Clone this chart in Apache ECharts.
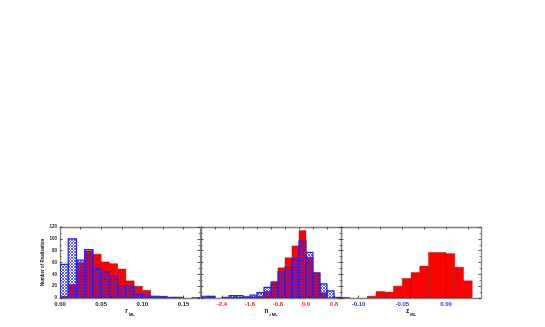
<!DOCTYPE html>
<html>
<head>
<meta charset="utf-8">
<script src="https://cdn.jsdelivr.net/npm/echarts@6/dist/echarts.min.js"></script>
<style>
  html, body { margin: 0; padding: 0; background: #fff; }
  #chart { width: 545px; height: 327px; }
</style>
</head>
<body>
<div id="chart"></div>
<script>
// histogram counts
const rBinStart = 0, rBinWidth = 0.01;
const rRed  = [3, 23, 60, 80, 74, 61, 58, 49, 29, 20, 13, 3, 3, 1, 1, 0, 1];
const rBlue = [57, 100, 64, 82, 50, 44, 38, 21, 19, 6, 5, 3, 2, 1, 1, 0, 0];

const nBinStart = -3.0, nBinWidth = 0.2;
const nRed  = [1, 3, 0, 0, 1, 1, 1, 2, 3, 11, 28, 51, 68, 88, 114, 69, 43, 9, 0, 1];
const nBlue = [3, 3, 0, 1, 4, 4, 2, 5, 9, 18, 25, 44, 52, 66, 96, 77, 42, 24, 12, 1];

const zBinStart = -0.12, zBinWidth = 0.01;
const zRed = [1, 0, 0, 3, 11, 10, 20, 33, 43, 54, 77, 77, 75, 52, 29, 0];

const rLabels = [0, 0.05, 0.10, 0.15];
const nLabels = [-2.4, -1.6, -0.8, 0.0, 0.8];
const zLabels = [-0.10, -0.05, 0.00];

function bins(start, width, counts) {
  return counts.map((c, i) => [start + i * width, start + (i + 1) * width, c]);
}

// blue cross-hatch fill
const pat = document.createElement('canvas');
pat.width = 3; pat.height = 3;
const pc = pat.getContext('2d');
pc.fillStyle = 'rgba(30,30,255,0.7)';
pc.fillRect(0, 0, 1, 1); pc.fillRect(2, 0, 1, 1); pc.fillRect(1, 1, 1, 1);
pc.fillRect(0, 2, 1, 1); pc.fillRect(2, 2, 1, 1);

const redStyle = { fill: '#ff0000', stroke: 'rgba(140,20,20,0.55)', lineWidth: 0.8 };
const blueStyle = { fill: { image: pat, repeat: 'repeat' }, stroke: '#2222ff', lineWidth: 1.2 };

function histo(style) {
  return function (params, api) {
    const n = api.value(2);
    if (!n) return null;
    const p0 = api.coord([api.value(0), n]);
    const p1 = api.coord([api.value(1), 0]);
    return {
      type: 'rect',
      shape: { x: p0[0], y: p0[1], width: p1[0] - p0[0], height: p1[1] - p0[1] },
      style: style
    };
  };
}

const lefts = [60, 201, 341];
const grids = lefts.map(l => ({ left: l, top: 227, width: 140, height: 71 }));

const frame = { show: true, onZero: false, lineStyle: { color: '#808080', width: 1.3 } };
const tick = (vals) => ({ show: true, inside: true, length: 2.5, lineStyle: { color: '#333', width: 0.8 }, customValues: vals });
const labelFont = { fontFamily: 'Liberation Sans', fontSize: 6, fontWeight: 'bold' };

function nameRich(main, sub) {
  return {
    name: '{a|' + main + '}{s|' + sub + '}',
    nameLocation: 'middle',
    nameGap: 8,
    nameTextStyle: {
      rich: {
        a: { fontFamily: 'Liberation Sans', fontSize: 6.5, fontWeight: 'bold', color: '#111', lineHeight: 9, verticalAlign: 'top' },
        s: { fontFamily: 'Liberation Sans', fontSize: 4, fontWeight: 'bold', color: '#111', lineHeight: 9, verticalAlign: 'bottom', padding: [3, 0, 0, 1] }
      }
    }
  };
}

const xSpec = [
  { min: 0, max: 0.17, labels: rLabels, digits: 2, color: '#222', top: [0.025, 0.05, 0.075, 0.1, 0.125, 0.15], nm: nameRich('r', 'ML') },
  { min: -3.0, max: 1.0, labels: nLabels, digits: 1, color: '#ff2020', top: [-2.6, -2.2, -1.8, -1.4, -1.0, -0.6, -0.2, 0.2, 0.6], nm: nameRich('n', 't ML') },
  { min: -0.12, max: 0.04, labels: zLabels, digits: 2, color: '#2233ff', top: [-0.1, -0.075, -0.05, -0.025, 0, 0.025], nm: nameRich('z', 'ML') }
];

const xAxes = [];
xSpec.forEach((s, i) => {
  xAxes.push(Object.assign({
    type: 'value', gridIndex: i, position: 'bottom', min: s.min, max: s.max,
    axisLine: frame, splitLine: { show: false },
    axisTick: tick(s.labels),
    axisLabel: Object.assign({ color: s.color, margin: 3, customValues: s.labels,
      formatter: v => v.toFixed(s.digits), showMinLabel: true, showMaxLabel: true }, labelFont)
  }, s.nm));
  xAxes.push({
    type: 'value', gridIndex: i, position: 'top', min: s.min, max: s.max,
    axisLine: frame, splitLine: { show: false },
    axisTick: tick(s.top), axisLabel: { show: false }
  });
});

const yAxes = [];
[0, 1, 2].forEach(i => {
  yAxes.push({
    type: 'value', gridIndex: i, position: 'left', min: 0, max: 120, interval: 20,
    axisLine: frame, splitLine: { show: false },
    axisTick: { show: true, inside: true, length: 2.5, lineStyle: { color: '#333', width: 0.8 } },
    minorTick: { show: true, splitNumber: 2, length: 1.5, lineStyle: { color: '#333', width: 0.6 } },
    axisLabel: { show: i === 0, margin: 3, color: '#222', fontFamily: 'Liberation Sans', fontSize: 4.5, fontWeight: 'bold' },
    name: i === 0 ? 'Number of Realization' : '',
    nameLocation: 'middle', nameGap: 12, nameRotate: 90,
    nameTextStyle: { fontFamily: 'Liberation Sans', fontSize: 4.5, fontWeight: 'bold', color: '#222' }
  });
  yAxes.push({
    type: 'value', gridIndex: i, position: 'right', min: 0, max: 120, interval: 20,
    axisLine: frame, splitLine: { show: false },
    axisTick: { show: true, inside: true, length: 2.5, lineStyle: { color: '#333', width: 0.8 } },
    minorTick: { show: true, splitNumber: 2, length: 1.5, lineStyle: { color: '#333', width: 0.6 } },
    axisLabel: { show: false }
  });
});

function series(gi, data, style, z) {
  return {
    type: 'custom', xAxisIndex: gi * 2, yAxisIndex: gi * 2, clip: true, z: z,
    renderItem: histo(style), encode: { x: [0, 1], y: 2 }, data: data, silent: true
  };
}

const chart = echarts.init(document.getElementById('chart'), null, { renderer: 'canvas' });
chart.setOption({
  backgroundColor: '#fff',
  animation: false,
  grid: grids,
  xAxis: xAxes,
  yAxis: yAxes,
  series: [
    series(0, bins(rBinStart, rBinWidth, rRed), redStyle, 2),
    series(0, bins(rBinStart, rBinWidth, rBlue), blueStyle, 3),
    series(1, bins(nBinStart, nBinWidth, nRed), redStyle, 2),
    series(1, bins(nBinStart, nBinWidth, nBlue), blueStyle, 3),
    series(2, bins(zBinStart, zBinWidth, zRed), redStyle, 2)
  ]
});
</script>
</body>
</html>
